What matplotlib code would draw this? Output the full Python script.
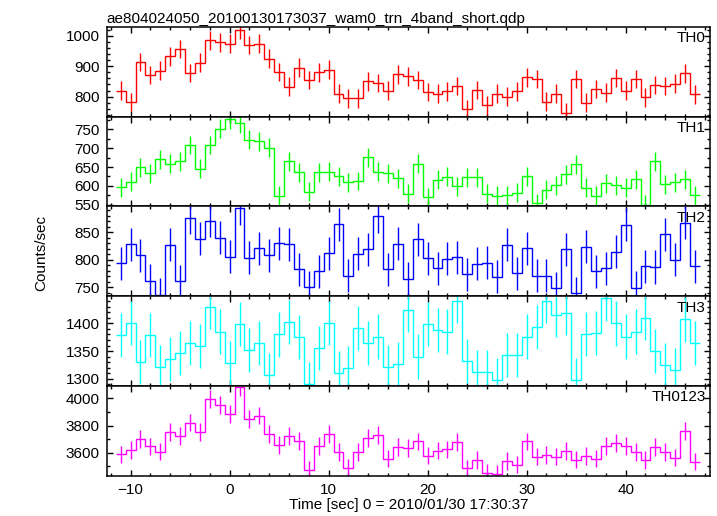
import matplotlib.pyplot as plt
from matplotlib.ticker import MultipleLocator

plt.rcParams['font.family'] = ['Liberation Sans', 'DejaVu Sans']

# bin centres (1 s bins)
time = list(range(-11, 48))
edges = [t - 0.5 for t in time] + [time[-1] + 0.5]

th0 = [820, 782, 914, 871, 886, 933, 957, 878, 912, 986, 979, 974, 1021, 970, 974,
       925, 881, 832, 895, 855, 880, 889, 810, 795, 795, 850, 845, 820, 874, 867,
       855, 815, 809, 817, 835, 759, 822, 771, 810, 800, 818, 864, 858, 783, 810,
       747, 858, 780, 825, 813, 861, 820, 858, 798, 838, 835, 842, 877, 807]
th1 = [597, 611, 649, 634, 670, 659, 665, 708, 645, 708, 751, 776, 765, 722, 718,
       701, 574, 665, 636, 585, 636, 638, 625, 610, 613, 676, 638, 634, 620, 580,
       658, 570, 616, 624, 599, 623, 623, 579, 574, 575, 582, 625, 554, 590, 602,
       631, 657, 595, 574, 607, 602, 595, 618, 551, 665, 605, 610, 618, 575]
th2 = [794, 828, 808, 762, 737, 827, 761, 876, 838, 871, 840, 806, 894, 804, 821,
       808, 830, 828, 783, 750, 779, 812, 865, 771, 811, 819, 879, 783, 829, 766,
       837, 803, 785, 802, 805, 774, 793, 795, 769, 827, 776, 821, 771, 771, 748,
       819, 739, 824, 779, 785, 815, 864, 749, 788, 787, 846, 800, 867, 788]
th3 = [1379, 1401, 1330, 1379, 1321, 1336, 1346, 1365, 1359, 1429, 1385, 1328, 1399,
       1352, 1365, 1306, 1380, 1403, 1375, 1290, 1356, 1401, 1310, 1320, 1392, 1365,
       1376, 1321, 1327, 1424, 1340, 1399, 1388, 1385, 1441, 1332, 1312, 1312, 1297,
       1343, 1343, 1376, 1393, 1441, 1415, 1419, 1298, 1381, 1382, 1445, 1400, 1376,
       1385, 1410, 1350, 1325, 1315, 1407, 1365]
th0123 = [3588, 3620, 3704, 3647, 3610, 3753, 3726, 3822, 3753, 3993, 3953, 3884,
          4081, 3847, 3874, 3741, 3659, 3726, 3689, 3474, 3649, 3738, 3607, 3491,
          3607, 3709, 3733, 3558, 3644, 3635, 3684, 3580, 3617, 3625, 3679, 3486,
          3546, 3454, 3444, 3538, 3514, 3684, 3573, 3583, 3573, 3612, 3551, 3578,
          3558, 3649, 3674, 3652, 3607, 3548, 3644, 3607, 3565, 3763, 3536]

# typical 1-sigma error per band
errors = [31, 25, 30, 40, 65]
names = ["TH0", "TH1", "TH2", "TH3", "TH0123"]
colors = ["#ff0000", "#00ff00", "#0000ff", "#00ffff", "#ff00ff"]
series = [th0, th1, th2, th3, th0123]

ylims = [(734, 1030), (546, 783), (734, 897), (1287, 1449), (3432, 4091)]
major = [100, 50, 50, 50, 200]
minor = [20, 25, 10, 10, 100]

fig, axes = plt.subplots(5, 1, figsize=(7.17, 5.16), dpi=100, sharex=True)
fig.subplots_adjust(left=0.149, right=0.990, top=0.948, bottom=0.078, hspace=0)

for i, ax in enumerate(axes):
    ax.stairs(series[i], edges, baseline=None, color=colors[i], lw=1.0)
    ax.errorbar(time, series[i], yerr=errors[i], fmt="none",
                ecolor=colors[i], elinewidth=1.0)
    ax.set_ylim(*ylims[i])
    ax.set_xlim(-12.4, 48.5)
    ax.yaxis.set_major_locator(MultipleLocator(major[i]))
    ax.yaxis.set_minor_locator(MultipleLocator(minor[i]))
    ax.xaxis.set_major_locator(MultipleLocator(10))
    ax.xaxis.set_minor_locator(MultipleLocator(2))
    ax.tick_params(which="both", direction="in", top=True, right=True,
                   labelsize=11, width=1.0, pad=5)
    ax.tick_params(which="major", length=4.5)
    ax.tick_params(which="minor", length=2.5)
    for s in ax.spines.values():
        s.set_linewidth(1.1)
    ax.text(0.993, 0.95, names[i], transform=ax.transAxes, ha="right", va="top",
            fontsize=11)

axes[0].set_title("ae804024050_20100130173037_wam0_trn_4band_short.qdp",
                  loc="left", fontsize=11, pad=3)
axes[-1].set_xlabel("Time [sec] 0 = 2010/01/30 17:30:37", fontsize=11, labelpad=1)
fig.text(0.058, 0.51, "Counts/sec", rotation=90, ha="center", va="center",
         fontsize=11)

plt.savefig("out.png", dpi=100)
